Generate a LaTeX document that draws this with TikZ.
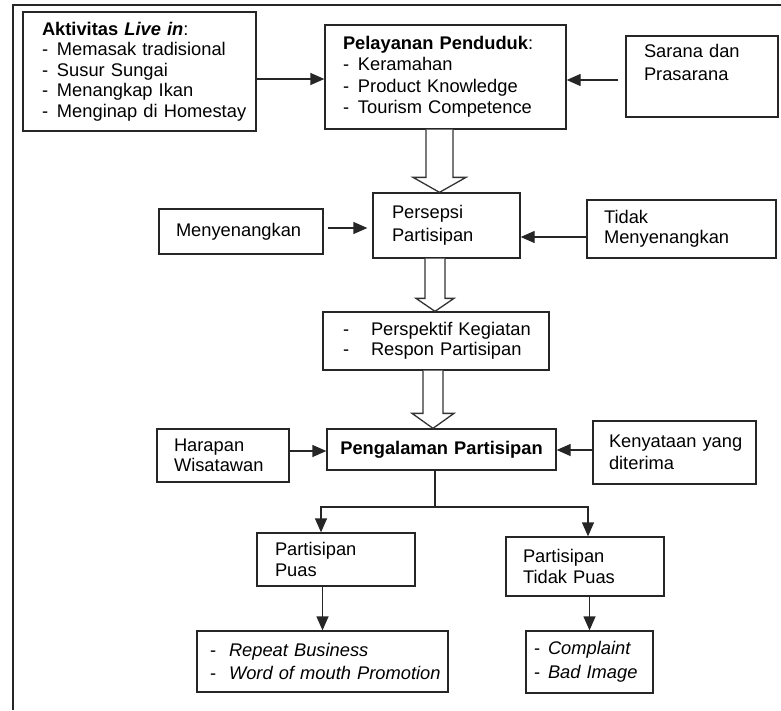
\documentclass[tikz,border=0pt]{standalone}
\usepackage{fontspec}
\setmainfont{Liberation Sans}
\usetikzlibrary{arrows.meta,
	calc}

\newcommand{\dashitem}[2][15pt]{\mbox{\makebox[#1][l]{-}#2}}
\newcommand{\fatarrow}[6]{%
  \draw[fat] let \p1=(#1.south), \p2=(#2.north) in
    ({#3pt-#4pt},\y1) -- ({#3pt-#4pt},\y2+#6pt) -- ({#3pt-#5pt},\y2+#6pt) -- (#3pt,\y2)
    -- ({#3pt+#5pt},\y2+#6pt) -- ({#3pt+#4pt},\y2+#6pt) -- ({#3pt+#4pt},\y1);}

\begin{document}
\begin{tikzpicture}[x=1pt,y=-1pt]
        \tikzstyle{box}=[draw=black!85,line width=1.3pt,align=left,inner ysep=0pt,font=\fontsize{18.3}{20.5}\selectfont]
        \tikzstyle{arr}=[draw=black!85,line width=1.3pt,-{Triangle[length=14pt,width=12pt]}]
        \tikzstyle{line}=[draw=black!85,line width=1.3pt]
        \tikzstyle{fat}=[draw=black!80,line width=1.3pt,fill=white]
        \useasboundingbox (0,0) rectangle (781,710);
        \draw[line width=2pt,black!85] (13,710) -- (13,5) -- (781,5);
        \node[box,text width=195pt,inner xsep=19pt,minimum height=119pt] (akt) at (139.5,71.5)
          {\mbox{\textbf{Aktivitas \textit{Live in}}:}\\ \dashitem{Memasak tradisional}\\ \dashitem{Susur Sungai}\\ \dashitem{Menangkap Ikan}\\ \dashitem{Menginap di Homestay}};
        \node[box,text width=205pt,inner xsep=18pt,minimum height=104pt] (pel) at (445.5,77)
          {\mbox{\textbf{Pelayanan Penduduk}:}\\[1pt] \dashitem{Keramahan}\\[1pt] \dashitem{Product Knowledge}\\[1pt] \dashitem{Tourism Competence}};
        \node[box,text width=116pt,inner xsep=18pt,minimum height=81pt] (sar) at (702,76.5)
          {\mbox{Sarana dan}\\[2pt] Prasarana\\[2pt] \strut};
        \node[box,text width=109pt,inner xsep=19pt,minimum height=65pt] (per) at (446.5,225.5)
          {Persepsi\\[2pt] Partisipan};
        \node[box,text width=130pt,inner xsep=17pt,minimum height=45pt] (men) at (241,231.5)
          {\mbox{Menyenangkan}};
        \node[box,text width=155pt,inner xsep=17pt,minimum height=58pt] (tid) at (681.5,229)
          {Tidak\\ \mbox{Menyenangkan}};
        \node[box,text width=186pt,inner xsep=20pt,minimum height=58pt] (psp) at (436,341)
          {\dashitem[28pt]{Perspektif Kegiatan}\\ \dashitem[28pt]{Respon Partisipan}};
        \node[box,text width=209pt,inner xsep=10pt,minimum height=41pt,align=center] (pen) at (441.5,449.5)
          {\mbox{\textbf{Pengalaman Partisipan}}};
        \node[box,text width=98pt,inner xsep=17pt,minimum height=53pt] (har) at (223,455.5)
          {Harapan\\ \mbox{Wisatawan}};
        \node[box,text width=131pt,inner xsep=16pt,minimum height=63pt] (ken) at (674.5,452.5)
          {\mbox{Kenyataan yang}\\[1pt] diterima};
        \node[box,text width=122pt,inner xsep=18pt,minimum height=53pt] (pua) at (336,559.5)
          {Partisipan\\ Puas};
        \node[box,text width=124pt,inner xsep=17pt,minimum height=59pt] (tpu) at (585,566.5)
          {Partisipan\\ \mbox{Tidak Puas}};
        \node[box,text width=225pt,inner xsep=13pt,minimum height=61pt] (rep) at (322.5,661.5)
          {\dashitem[19pt]{\textit{Repeat Business}}\\[3pt] \dashitem[19pt]{\textit{Word of mouth Promotion}}};
        \node[box,text width=111pt,inner xsep=8pt,minimum height=62pt] (com) at (589.5,662)
          {\dashitem[14pt]{\textit{Complaint}}\\[3pt] \dashitem[14pt]{\textit{Bad Image}}};
        \draw[arr] (akt.east |- 0,79) -- (pel.west |- 0,79);
        \draw[arr,shorten <=7pt] (sar.west |- 0,80) -- (pel.east |- 0,80);
        \draw[arr,shorten <=4pt,shorten >=5pt] (men.east |- 0,228) -- (per.west |- 0,228);
        \draw[arr] (tid.west |- 0,237) -- (per.east |- 0,237);
        \draw[arr] (har.east |- 0,451) -- (pen.west |- 0,451);
        \draw[arr] (ken.west |- 0,450) -- (pen.east |- 0,450);
        \fatarrow{pel}{per}{439.5}{13.5}{26.5}{15}
        \fatarrow{per}{psp}{435}{10}{19}{13}
        \fatarrow{psp}{pen}{433}{10}{21}{15}
        \coordinate (split) at (435,507);
        \draw[line] (pen.south -| split) -- (split);
        \draw[arr] (split) -| ([xshift=-15pt]pua.north);
        \draw[arr] (split) -| ([xshift=3pt]tpu.north);
        \draw[arr] (pua.south -| rep.north) -- (rep.north);
        \draw[arr] (tpu.south -| com.north) -- (com.north);
      \end{tikzpicture}
\end{document}
